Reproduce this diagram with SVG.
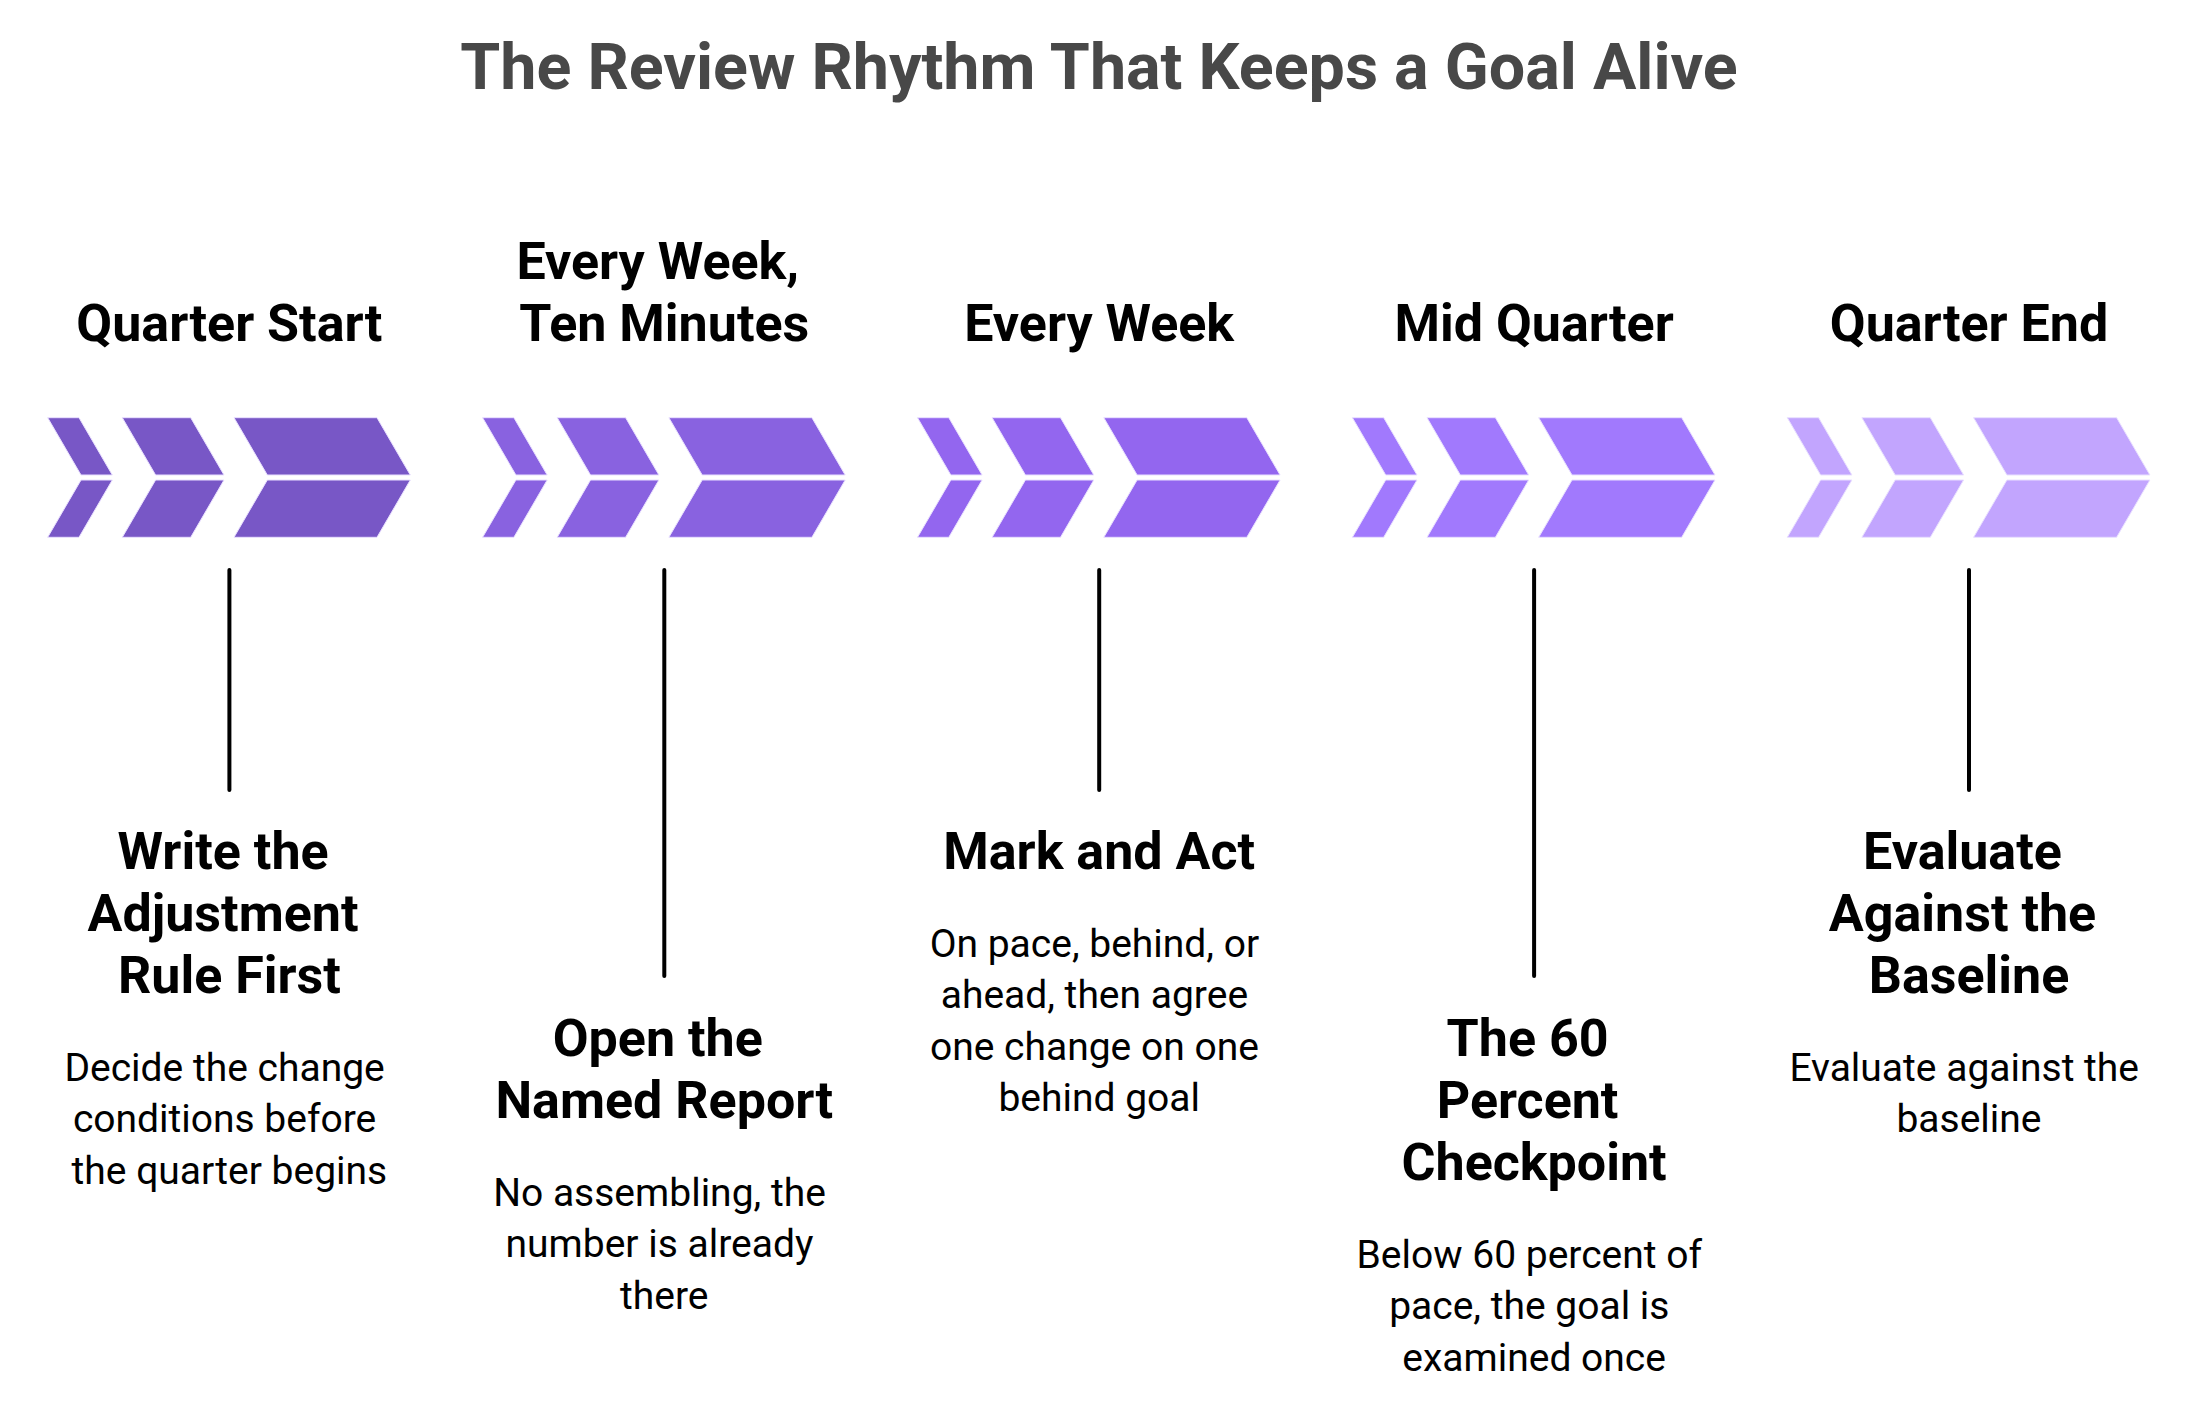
<svg xmlns="http://www.w3.org/2000/svg" xmlns:xlink="http://www.w3.org/1999/xlink" width="2198" height="1410" viewBox="0 0 2198 1410">
<style>
.title{font-family:Roboto,"Liberation Sans",sans-serif;font-weight:700;font-size:64.6px;fill:#484848;text-anchor:middle}
.hd{font-family:Roboto,"Liberation Sans",sans-serif;font-weight:700;font-size:52px;fill:#000;text-anchor:middle}
.desc{font-family:Roboto,"Liberation Sans",sans-serif;font-weight:400;font-size:39px;fill:#000;text-anchor:middle}
.stem{stroke:#000;stroke-width:4;stroke-linecap:round;fill:none}
.chev{stroke:#e9e0ff;stroke-width:1}
</style>
<defs>
<g id="chevrons">
<polygon points="0,417.7 31.3,417.7 64.6,475 33.3,475"/>
<polygon points="33.3,480 64.6,480 31.3,537.3 0,537.3"/>
<polygon points="74.6,417.7 143,417.7 176.3,475 107.9,475"/>
<polygon points="107.9,480 176.3,480 143,537.3 74.6,537.3"/>
<polygon points="186.3,417.7 329.3,417.7 362.6,475 219.6,475"/>
<polygon points="219.6,480 362.6,480 329.3,537.3 186.3,537.3"/>
</g>
</defs>
<rect width="2198" height="1410" fill="#fff"/>
<text class="title" x="1099" y="89">The Review Rhythm That Keeps a Goal Alive</text>

<g id="connectors">
<line class="stem" x1="229.4" y1="570" x2="229.4" y2="790"/>
<line class="stem" x1="664.3" y1="570" x2="664.3" y2="976"/>
<line class="stem" x1="1099.2" y1="570" x2="1099.2" y2="790"/>
<line class="stem" x1="1534.1" y1="570" x2="1534.1" y2="976"/>
<line class="stem" x1="1969" y1="570" x2="1969" y2="790"/>
</g>

<g id="step1">
<use xlink:href="#chevrons" class="chev" x="47.7" fill="#7857c6"/>
<text class="hd" x="229.4" y="341">Quarter Start</text>
<text class="hd" x="223" y="869">Write the</text>
<text class="hd" x="223" y="931">Adjustment</text>
<text class="hd" x="229.4" y="993">Rule First</text>
<text class="desc" x="224.6" y="1080.5">Decide the change</text>
<text class="desc" x="224.6" y="1132">conditions before</text>
<text class="desc" x="229.4" y="1183.5">the quarter begins</text>
</g>

<g id="step2">
<use xlink:href="#chevrons" class="chev" x="482.6" fill="#8962e0"/>
<text class="hd" x="657.8" y="279">Every Week,</text>
<text class="hd" x="664.3" y="341">Ten Minutes</text>
<text class="hd" x="657.8" y="1056">Open the</text>
<text class="hd" x="664.3" y="1118">Named Report</text>
<text class="desc" x="659.5" y="1205.5">No assembling, the</text>
<text class="desc" x="659.5" y="1257">number is already</text>
<text class="desc" x="664.3" y="1308.5">there</text>
</g>

<g id="step3">
<use xlink:href="#chevrons" class="chev" x="917.5" fill="#9366ef"/>
<text class="hd" x="1099.2" y="341">Every Week</text>
<text class="hd" x="1099.2" y="869">Mark and Act</text>
<text class="desc" x="1094.4" y="956.5">On pace, behind, or</text>
<text class="desc" x="1094.4" y="1008">ahead, then agree</text>
<text class="desc" x="1094.4" y="1059.5">one change on one</text>
<text class="desc" x="1099.2" y="1111">behind goal</text>
</g>

<g id="step4">
<use xlink:href="#chevrons" class="chev" x="1352.4" fill="#a179fd"/>
<text class="hd" x="1534.1" y="341">Mid Quarter</text>
<text class="hd" x="1527.6" y="1056">The 60</text>
<text class="hd" x="1527.6" y="1118">Percent</text>
<text class="hd" x="1534.1" y="1180">Checkpoint</text>
<text class="desc" x="1529.3" y="1267.5">Below 60 percent of</text>
<text class="desc" x="1529.3" y="1319">pace, the goal is</text>
<text class="desc" x="1534.1" y="1370.5">examined once</text>
</g>

<g id="step5">
<use xlink:href="#chevrons" class="chev" x="1787.3" fill="#c2a5fe"/>
<text class="hd" x="1969" y="341">Quarter End</text>
<text class="hd" x="1962.5" y="869">Evaluate</text>
<text class="hd" x="1962.5" y="931">Against the</text>
<text class="hd" x="1969" y="993">Baseline</text>
<text class="desc" x="1964.2" y="1080.5">Evaluate against the</text>
<text class="desc" x="1969" y="1132">baseline</text>
</g>
</svg>
